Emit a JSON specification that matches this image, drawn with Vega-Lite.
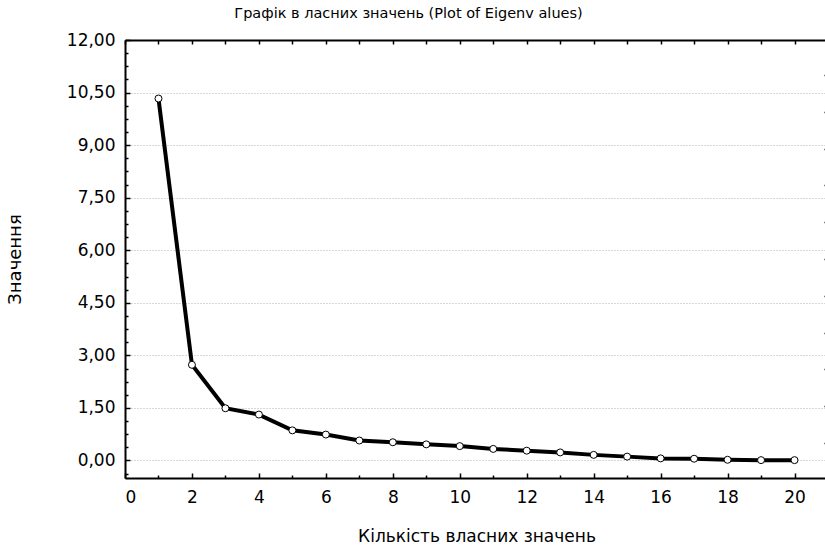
{
  "$schema": "https://vega.github.io/schema/vega-lite/v6.json",
  "width": 703,
  "height": 438,
  "autosize": {"type": "none"},
  "padding": {"left": 125, "top": 40, "right": 0, "bottom": 69},
  "background": "white",
  "config": {"view": {"stroke": null}, "font": "DejaVu Sans", "title": {"color": "black"}},
  "title": {
    "text": "Графік в ласних значень (Plot of  Eigenv alues)",
    "font": "DejaVu Sans",
    "fontSize": 14.5,
    "fontWeight": "normal",
    "color": "black",
    "anchor": "middle",
    "dx": -68,
    "baseline": "alphabetic",
    "offset": -1
  },
  "data": {
    "values": [
      {"n": 1, "value": 10.33},
      {"n": 2, "value": 2.73},
      {"n": 3, "value": 1.49},
      {"n": 4, "value": 1.31},
      {"n": 5, "value": 0.86},
      {"n": 6, "value": 0.74},
      {"n": 7, "value": 0.57},
      {"n": 8, "value": 0.52},
      {"n": 9, "value": 0.46},
      {"n": 10, "value": 0.41},
      {"n": 11, "value": 0.33},
      {"n": 12, "value": 0.28},
      {"n": 13, "value": 0.23},
      {"n": 14, "value": 0.16},
      {"n": 15, "value": 0.11},
      {"n": 16, "value": 0.06},
      {"n": 17, "value": 0.05},
      {"n": 18, "value": 0.02},
      {"n": 19, "value": 0.01},
      {"n": 20, "value": 0.01}
    ]
  },
  "resolve": {"axis": {"x": "independent", "y": "independent"}},
  "layer": [
    {
      "mark": {"type": "line", "color": "black", "strokeWidth": 4},
      "encoding": {
        "x": {
          "field": "n", "type": "quantitative",
          "scale": {"domain": [0, 21], "nice": false, "zero": false},
          "axis": {
            "orient": "bottom",
            "values": [0, 2, 4, 6, 8, 10, 12, 14, 16, 18, 20],
            "ticks": false,
            "grid": false,
            "domain": true, "domainColor": "black", "domainWidth": 2,
            "labelFont": "DejaVu Sans", "labelFontSize": 17, "labelColor": "black",
            "labelPadding": 11,
            "title": "Кількість власних значень",
            "titleFont": "DejaVu Sans", "titleFontSize": 17, "titleFontWeight": "normal", "titleColor": "black",
            "titlePadding": 23
          }
        },
        "y": {
          "field": "value", "type": "quantitative",
          "scale": {"domain": [-0.5, 12], "nice": false, "zero": false},
          "axis": {
            "orient": "left",
            "values": [0, 1.5, 3, 4.5, 6, 7.5, 9, 10.5, 12],
            "labelExpr": "replace(format(datum.value, '.2f'), '.', ',')",
            "ticks": false,
            "grid": true, "gridColor": "#b0b0b0", "gridDash": [1, 2], "gridWidth": 1,
            "domain": true, "domainColor": "black", "domainWidth": 2,
            "labelFont": "DejaVu Sans", "labelFontSize": 17, "labelColor": "black",
            "labelPadding": 10,
            "title": "Значення",
            "titleFont": "DejaVu Sans", "titleFontSize": 18, "titleFontWeight": "normal", "titleColor": "black",
            "titlePadding": 42
          }
        }
      }
    },
    {
      "mark": {"type": "point", "filled": true, "fill": "white", "stroke": "black", "strokeWidth": 1, "size": 49, "opacity": 1},
      "encoding": {
        "x": {"field": "n", "type": "quantitative", "axis": null},
        "y": {"field": "value", "type": "quantitative", "axis": null}
      }
    },
    {
      "mark": {"type": "point", "opacity": 0},
      "encoding": {
        "x": {
          "field": "n", "type": "quantitative",
          "axis": {
            "orient": "top",
            "values": [0, 1, 2, 3, 4, 5, 6, 7, 8, 9, 10, 11, 12, 13, 14, 15, 16, 17, 18, 19, 20, 21],
            "labels": false, "grid": false, "title": null,
            "domain": true, "domainColor": "black", "domainWidth": 2,
            "ticks": true, "tickSize": -4, "tickColor": "black", "tickWidth": 1.5
          }
        },
        "y": {
          "field": "value", "type": "quantitative",
          "axis": {
            "orient": "left",
            "values": [-0.375, 0.375, 0.75, 1.125, 1.875, 2.25, 2.625, 3.375, 3.75, 4.125, 4.875, 5.25, 5.625, 6.375, 6.75, 7.125, 7.875, 8.25, 8.625, 9.375, 9.75, 10.125, 10.875, 11.25, 11.625],
            "labels": false, "grid": false, "title": null, "domain": false,
            "ticks": true, "tickSize": -3, "tickColor": "black", "tickWidth": 1.5
          }
        }
      }
    },
    {
      "mark": {"type": "point", "opacity": 0},
      "encoding": {
        "x": {
          "field": "n", "type": "quantitative",
          "axis": {
            "orient": "bottom",
            "values": [0, 2, 4, 6, 8, 10, 12, 14, 16, 18, 20],
            "labels": false, "grid": false, "title": null, "domain": false,
            "ticks": true, "tickSize": -5, "tickColor": "black", "tickWidth": 1.5
          }
        },
        "y": {
          "field": "value", "type": "quantitative",
          "axis": {
            "orient": "left",
            "values": [0, 1.5, 3, 4.5, 6, 7.5, 9, 10.5, 12],
            "labels": false, "grid": false, "title": null, "domain": false,
            "ticks": true, "tickSize": -5, "tickColor": "black", "tickWidth": 1.5
          }
        }
      }
    },
    {
      "mark": {"type": "point", "opacity": 0},
      "encoding": {
        "x": {
          "field": "n", "type": "quantitative",
          "axis": {
            "orient": "bottom",
            "values": [1, 3, 5, 7, 9, 11, 13, 15, 17, 19, 21],
            "labels": false, "grid": false, "title": null, "domain": false,
            "ticks": true, "tickSize": -3, "tickColor": "black", "tickWidth": 1.5
          }
        },
        "y": {
          "field": "value", "type": "quantitative",
          "axis": {
            "orient": "right",
            "values": [0.5, 1.55, 2.6, 3.65, 4.7, 5.75, 6.8, 7.85, 8.9, 9.95, 11.0],
            "labels": false, "grid": false, "title": null,
            "domain": true, "domainColor": "black", "domainWidth": 2,
            "ticks": true, "tickSize": -4, "tickColor": "black", "tickWidth": 1.5
          }
        }
      }
    }
  ]
}
